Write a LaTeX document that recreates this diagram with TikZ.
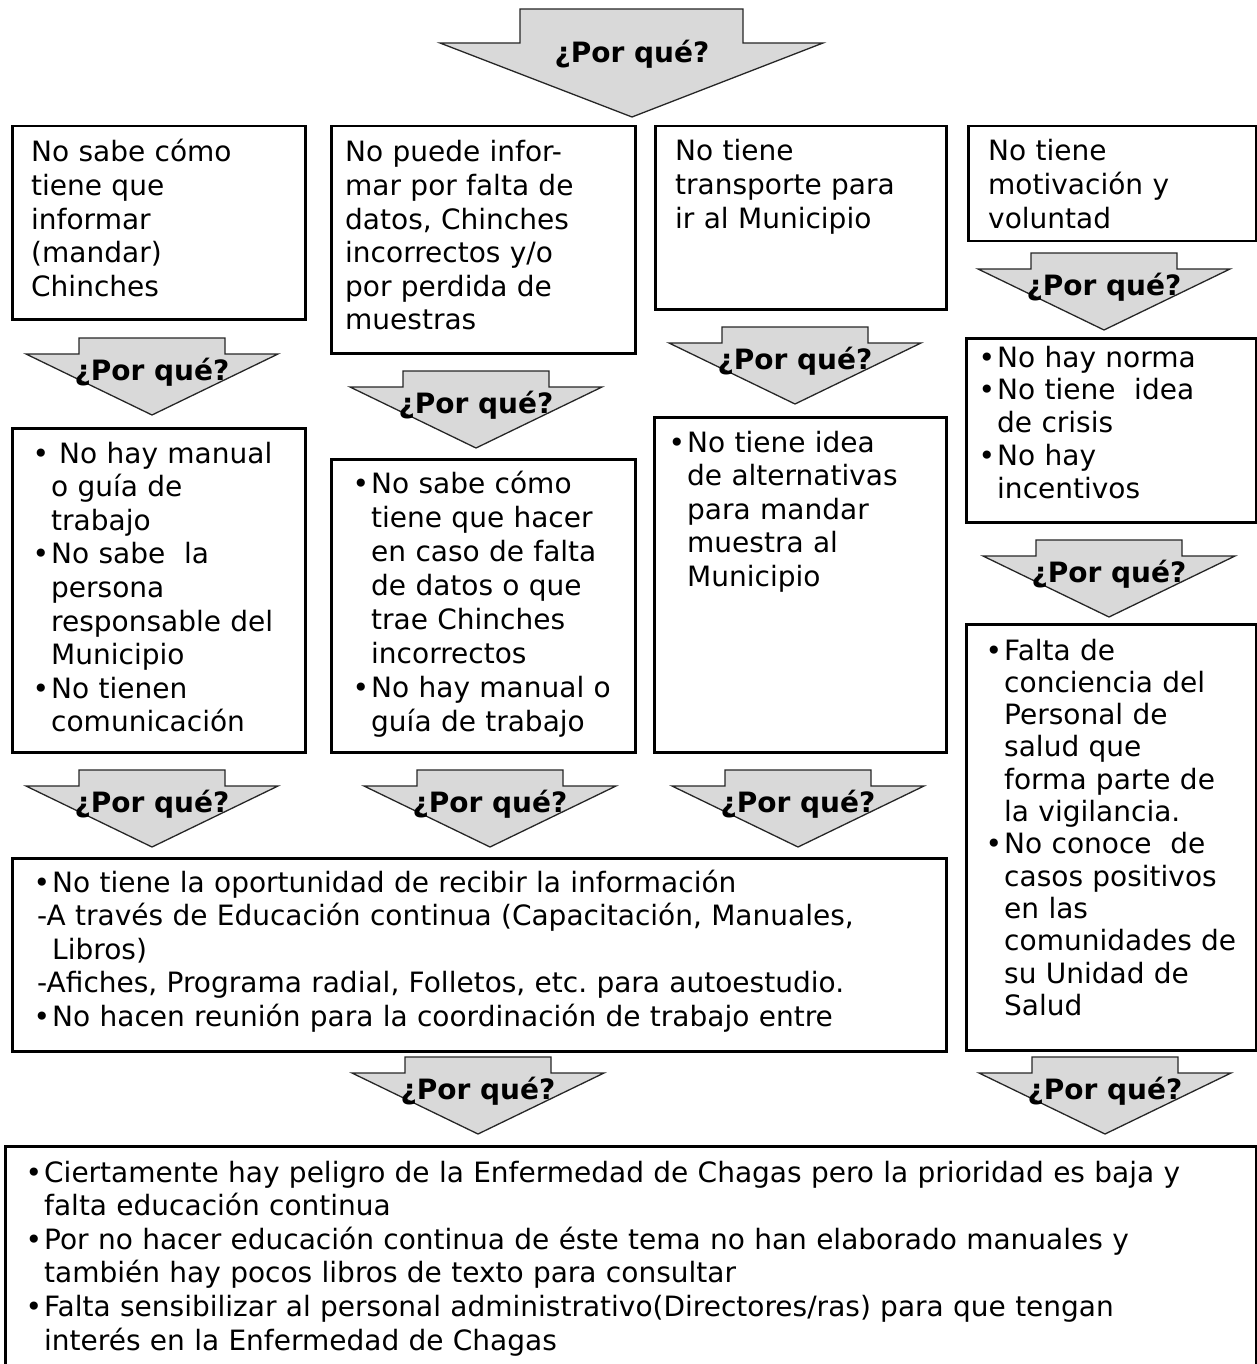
\documentclass[tikz,border=0pt]{standalone}
\usepackage{fontspec}
\setmainfont{DejaVu Sans}
\frenchspacing
\definecolor{whygray}{RGB}{217,217,217}
\newcommand\bu{\leavevmode\llap{\textbullet\hspace{2pt}}}
\newcommand\whyarrow[3]{%
  \filldraw[why] ({#2-73},#3) -- ({#2+73},#3) -- ({#2+73},{#3+16}) -- ({#2+126},{#3+16}) -- (#2,{#3+77}) -- ({#2-126},{#3+16}) -- ({#2-73},{#3+16}) -- cycle;
  \node[whytxt] (#1) at (#2,{#3+42}) {¿Por qué?};}
\begin{document}
\begin{tikzpicture}[x=1pt,y=-1pt,
  box/.style={draw=black,line width=2.5pt,inner sep=0pt,anchor=north west},
  txt/.style={anchor=base west,inner sep=0pt,align=left,font=\fontsize{28}{33.6}\selectfont\frenchspacing},
  why/.style={fill=whygray,draw=black!85,line width=1.3pt,line join=miter},
  whytxt/.style={anchor=base,inner sep=0pt,font=\fontsize{28}{33.6}\selectfont\bfseries}]
\useasboundingbox (0,0) rectangle (1257,1364);
\clip (0,0) rectangle (1257,1364);

% top arrow
\filldraw[why] (520,9) -- (743,9) -- (743,43) -- (823,43) -- (632,117) -- (440,43) -- (520,43) -- cycle;
\node[whytxt] (why0) at (632,63) {¿Por qué?};

% boxes
\node[box,minimum width=293,minimum height=193] (a1) at (11,125) {};
\node[box,minimum width=304,minimum height=227] (a2) at (330,125) {};
\node[box,minimum width=291,minimum height=183] (a3) at (654,125) {};
\node[box,minimum width=288,minimum height=115] (a4) at (967,125) {};
\node[box,minimum width=293,minimum height=324] (b1) at (11,427) {};
\node[box,minimum width=304,minimum height=293] (b2) at (330,458) {};
\node[box,minimum width=292,minimum height=335] (b3) at (653,416) {};
\node[box,minimum width=290,minimum height=184] (b4) at (965,337) {};
\node[box,minimum width=290,minimum height=426] (b5) at (965,623) {};
\node[box,minimum width=934,minimum height=193] (c1) at (11,857) {};
\node[box,minimum width=1251,minimum height=221] (d1) at (4,1145) {};

% texts
\node[txt,text width=270] (ta1) at (31,162) {No sabe cómo\\tiene que\\informar\\(mandar)\\Chinches};
\node[txt,text width=287] (ta2) at (345,162) {No puede infor-\\mar por falta de\\datos, Chinches\\incorrectos y/o\\por perdida de\\muestras};
\node[txt,text width=268] (ta3) at (675,161) {No tiene\\transporte para\\ir al Municipio};
\node[txt,text width=265] (ta4) at (988,161) {No tiene\\motivación y\\voluntad};
\node[txt,text width=251] (tb1) at (51,463) {\bu\hspace{8pt}No hay manual\\o guía de\\trabajo\\\bu No sabe\ \ la\\persona\\responsable del\\Municipio\\\bu No tienen\\comunicación};
\node[txt,text width=261,font=\fontsize{28}{34.1}\selectfont] (tb2) at (371,493) {\bu No sabe cómo\\tiene que hacer\\en caso de falta\\de datos o que\\trae Chinches\\incorrectos\\\bu No hay manual o\\guía de trabajo};
\node[txt,text width=256] (tb3) at (687,452) {\bu No tiene idea\\de alternativas\\para mandar\\muestra al\\Municipio};
\node[txt,text width=256,font=\fontsize{28}{32.8}\selectfont] (tb4) at (997,367) {\bu No hay norma\\\bu No tiene\ \ idea\\de crisis\\\bu No hay\\incentivos};
\node[txt,text width=249,font=\fontsize{28}{32.3}\selectfont] (tb5) at (1004,660) {\bu Falta de\\conciencia del\\Personal de\\salud que\\forma parte de\\la vigilancia.\\\bu No conoce\ \ de\\casos positivos\\en las\\comunidades de\\su Unidad de\\Salud};
\node[txt,text width=890] (tc1) at (52,892) {\bu No tiene la oportunidad de recibir la información\\\leavevmode\hspace{-15pt}-A través de Educación continua (Capacitación, Manuales,\\Libros)\\\leavevmode\hspace{-15pt}-Afiches, Programa radial, Folletos, etc. para autoestudio.\\\bu No hacen reunión para la coordinación de trabajo entre};
\node[txt,text width=1205] (td1) at (44,1182) {\bu Ciertamente hay peligro de la Enfermedad de Chagas pero la prioridad es baja y\\falta educación continua\\\bu Por no hacer educación continua de éste tema no han elaborado manuales y\\también hay pocos libros de texto para consultar\\\bu Falta sensibilizar al personal administrativo(Directores/ras) para que tengan\\interés en la Enfermedad de Chagas};

% why arrows
\whyarrow{w1}{152}{338}
\whyarrow{w2}{476}{371}
\whyarrow{w3}{795}{327}
\whyarrow{w4}{1104}{253}
\whyarrow{w5}{1109}{540}
\whyarrow{w6}{152}{770}
\whyarrow{w7}{490}{770}
\whyarrow{w8}{798}{770}
\whyarrow{w9}{478}{1057}
\whyarrow{w10}{1105}{1057}
\end{tikzpicture}
\end{document}
